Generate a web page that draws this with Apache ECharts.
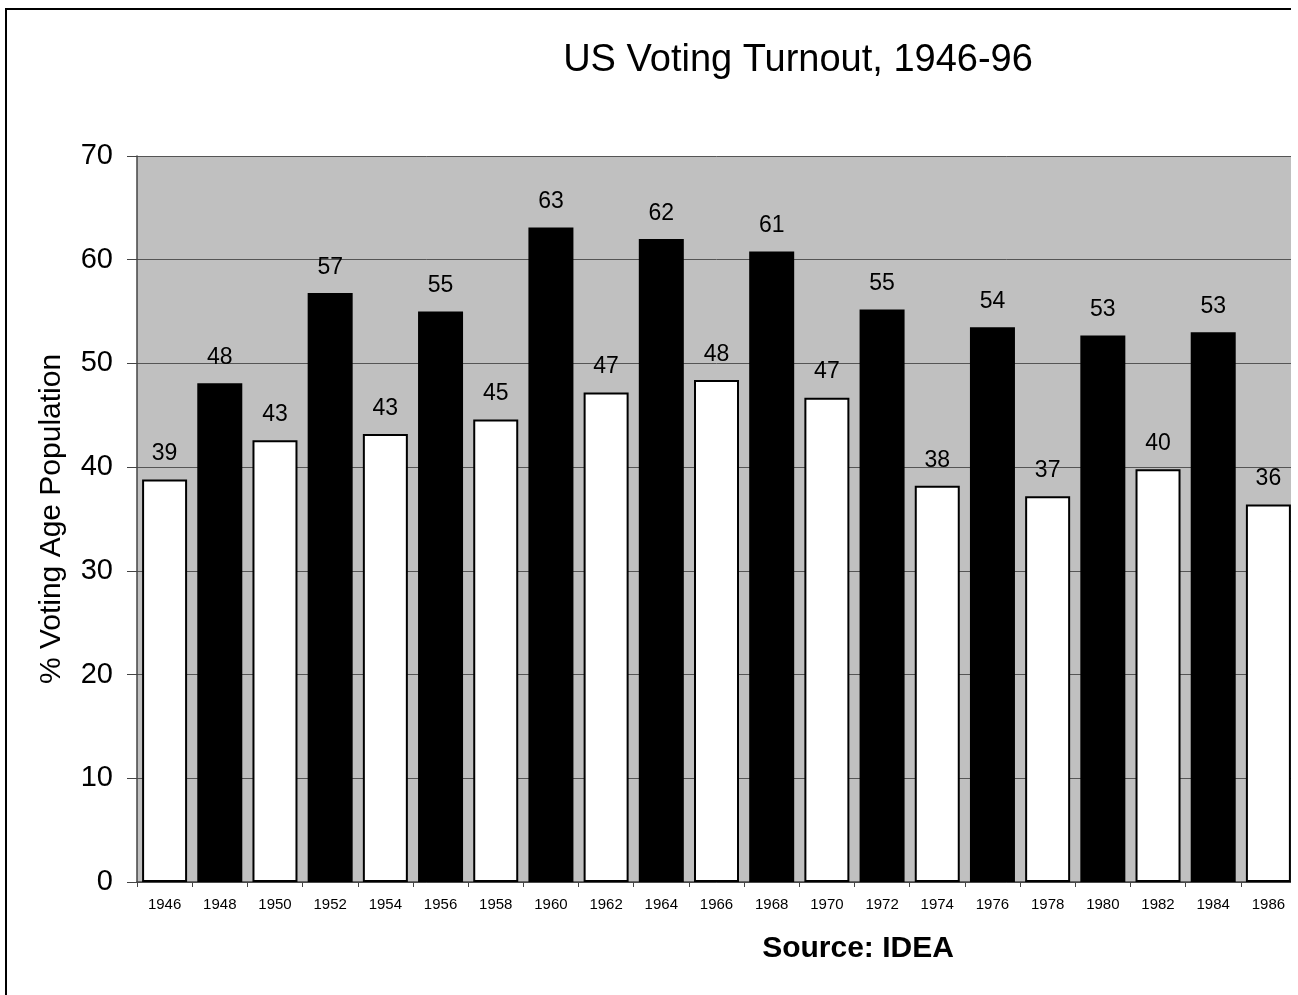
<!DOCTYPE html>
<html>
<head>
<meta charset="utf-8">
<title>US Voting Turnout, 1946-96</title>
<script src="https://cdn.jsdelivr.net/npm/echarts@6/dist/echarts.min.js"></script>
<style>
  html, body { margin: 0; padding: 0; background: #fff; }
  #wrap { width: 1291px; height: 995px; overflow: hidden; }
  #chart { width: 1298px; height: 995px; }
</style>
</head>
<body>
<div id="wrap"><div id="chart"></div></div>
<script>
// Election years shown on the category axis
const years = ['1946','1948','1950','1952','1954','1956','1958','1960','1962','1964','1966',
               '1968','1970','1972','1974','1976','1978','1980','1982','1984','1986'];
// Turnout, % of voting age population
const turnout = [38.8, 48.1, 42.6, 56.8, 43.2, 55.0, 44.6, 63.1, 47.2, 62.0, 48.4,
                 60.8, 46.7, 55.2, 38.2, 53.5, 37.2, 52.7, 39.8, 53.0, 36.4];
const yTicks = [0, 10, 20, 30, 40, 50, 60, 70];

const FONT = '"Liberation Sans", Arial, sans-serif';
const chart = echarts.init(document.getElementById('chart'), null, { renderer: 'canvas' });

// Presidential election years are drawn black, midterm years white
const isPresidential = (y) => Number(y) % 4 === 0;

chart.setOption({
  animation: false,
  backgroundColor: '#ffffff',
  textStyle: { fontFamily: FONT },
  graphic: [
    {
      type: 'rect',
      shape: { x: 6, y: 9, width: 3000, height: 3000 },
      style: { fill: 'none', stroke: '#000', lineWidth: 2 },
      silent: true, z: -1
    },
    {
      type: 'text',
      x: 798, y: 42,
      style: {
        text: 'US Voting Turnout, 1946-96',
        font: '38px ' + FONT,
        fill: '#000',
        textAlign: 'center',
        textVerticalAlign: 'top'
      }
    },
    {
      type: 'text',
      x: 858, y: 934,
      style: {
        text: 'Source: IDEA',
        font: 'bold 30px ' + FONT,
        fill: '#000',
        textAlign: 'center',
        textVerticalAlign: 'top'
      }
    }
  ],
  grid: {
    left: 137, top: 156, width: 1159, height: 726,
    show: true, backgroundColor: '#c0c0c0', borderWidth: 0
  },
  xAxis: {
    type: 'category',
    data: years,
    axisLine: { show: true, lineStyle: { color: '#444', width: 1.5 } },
    axisTick: { show: true, length: 5, lineStyle: { color: '#444' } },
    axisLabel: { fontSize: 15, color: '#000', margin: 15, fontFamily: FONT, interval: 0 },
    splitLine: { show: false }
  },
  yAxis: {
    type: 'value',
    min: yTicks[0], max: yTicks[yTicks.length - 1], interval: 10,
    name: '% Voting Age Population',
    nameLocation: 'middle',
    nameGap: 70,
    nameTextStyle: { fontSize: 30, color: '#000', fontFamily: FONT },
    axisLine: { show: true, lineStyle: { color: '#444', width: 1.5 } },
    axisTick: { show: true, length: 10, lineStyle: { color: '#444' } },
    axisLabel: { fontSize: 29, color: '#000', margin: 24, fontFamily: FONT },
    splitLine: { show: true, lineStyle: { color: '#555', width: 1 } }
  },
  series: [{
    type: 'bar',
    data: turnout,
    barWidth: 45,
    itemStyle: {
      color: (p) => isPresidential(years[p.dataIndex]) ? '#000000' : '#ffffff',
      borderColor: '#000',
      borderWidth: 2
    },
    label: {
      show: true,
      position: 'top',
      distance: 14,
      fontSize: 23,
      color: '#000',
      fontFamily: FONT,
      formatter: (p) => String(Math.round(p.value))
    }
  }]
});
</script>
</body>
</html>
